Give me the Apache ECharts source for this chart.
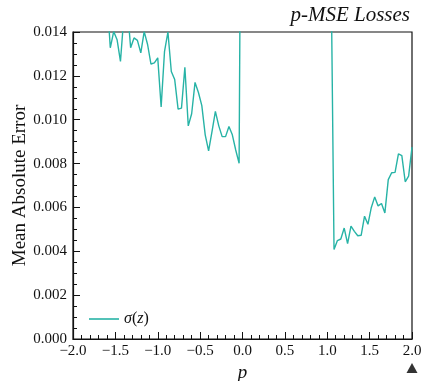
<!DOCTYPE html>
<html>
<head>
<meta charset="utf-8">
<script src="https://cdn.jsdelivr.net/npm/echarts@6/dist/echarts.min.js"></script>
<style>
  html, body { margin: 0; padding: 0; background: #fff; }
  #chart { width: 424px; height: 381px; }
</style>
</head>
<body>
<div id="chart"></div>
<script>
// p values at which each loss was evaluated
const pValues = [
  -2.00, -1.96, -1.92, -1.88, -1.84, -1.80, -1.76, -1.72, -1.68, -1.64,
  -1.60, -1.56, -1.52, -1.48, -1.44, -1.40, -1.36, -1.32, -1.28, -1.24,
  -1.20, -1.16, -1.12, -1.08, -1.04, -1.00, -0.96, -0.92, -0.88, -0.84,
  -0.80, -0.76, -0.72, -0.68, -0.64, -0.60, -0.56, -0.52, -0.48, -0.44,
  -0.40, -0.36, -0.32, -0.28, -0.24, -0.20, -0.16, -0.12, -0.08, -0.04,
   0.00,  0.04,  0.08,  0.12,  0.16,  0.20,  0.24,  0.28,  0.32,  0.36,
   0.40,  0.44,  0.48,  0.52,  0.56,  0.60,  0.64,  0.68,  0.72,  0.76,
   0.80,  0.84,  0.88,  0.92,  0.96,  1.00,  1.04,  1.08,  1.12,  1.16,
   1.20,  1.24,  1.28,  1.32,  1.36,  1.40,  1.44,  1.48,  1.52,  1.56,
   1.60,  1.64,  1.68,  1.72,  1.76,  1.80,  1.84,  1.88,  1.92,  1.96,
   2.00
];

// mean absolute error for the sigma(z) model (null = run diverged)
const maeSigma = [
  0.0192, 0.0178, 0.0186, 0.0170, 0.0175, 0.0162, 0.0167, 0.0159, 0.0164, 0.0152,
  0.0157, 0.01328, 0.01402, 0.01365, 0.01266, 0.0147, 0.0152, 0.01328, 0.01373, 0.01362,
  0.01305, 0.01402, 0.01343, 0.01254, 0.01259, 0.01282, 0.01058, 0.01312, 0.01400, 0.01220,
  0.01183, 0.01048, 0.01053, 0.01239, 0.00972, 0.01027, 0.01170, 0.01124, 0.01064, 0.00931,
  0.00858, 0.00946, 0.01038, 0.00972, 0.00923, 0.00923, 0.00969, 0.00931, 0.00862, 0.00801,
  0.0350, null, null, null, null, null, null, null, null, null,
  null, null, null, null, null, null, null, null, null, null,
  null, null, null, null, null, null, 0.0187, 0.00408, 0.00449, 0.00456,
  0.00506, 0.00435, 0.00515, 0.00491, 0.00471, 0.00473, 0.00560, 0.00523, 0.00600, 0.00648,
  0.00607, 0.00618, 0.00575, 0.00727, 0.00758, 0.00760, 0.00844, 0.00836, 0.00717, 0.00743,
  0.00875
];

// reference marker placed under the axis at p = 2 (plain MSE)
const markerP = [2.0];
const markerY = [-0.00132];

const xTicks = { min: -2.0, max: 2.0, interval: 0.5 };
const yTicks = { min: 0.0, max: 0.014, interval: 0.002 };

const SERIF = '"Liberation Serif", "DejaVu Serif", serif';
const INK = '#111';
const TEAL = '#27b3a6';

const lineData = pValues.map((p, i) => [p, maeSigma[i]]);
const markerData = markerP.map((p, i) => [p, markerY[i]]);

const chart = echarts.init(document.getElementById('chart'), null, { renderer: 'canvas' });

chart.setOption({
  animation: false,
  backgroundColor: '#fff',
  title: {
    text: 'p-MSE Losses',
    right: 9,
    top: 0,
    textStyle: { fontFamily: SERIF, fontStyle: 'italic', fontWeight: 'normal', fontSize: 21, color: INK }
  },
  grid: {
    left: 73, right: 12, top: 32, bottom: 42,
    show: true, borderColor: INK, borderWidth: 1.2,
    outerBoundsMode: 'none'
  },
  legend: {
    left: 84, top: 306,
    itemWidth: 30, itemHeight: 1.6, itemGap: 10,
    data: [{ name: 'sigma', icon: 'rect' }],
    formatter: () => '{i|σ}({i|z})',
    textStyle: {
      fontFamily: SERIF, fontSize: 16, color: INK,
      rich: { i: { fontFamily: SERIF, fontStyle: 'italic', fontSize: 16, color: INK } }
    }
  },
  xAxis: {
    type: 'value',
    min: xTicks.min, max: xTicks.max, interval: xTicks.interval,
    name: 'p', nameLocation: 'middle', nameGap: 23,
    nameTextStyle: { fontFamily: SERIF, fontStyle: 'italic', fontSize: 19, color: INK },
    axisLine: { show: true, onZero: false, lineStyle: { color: INK, width: 1.2 } },
    axisTick: { show: true, inside: true, length: 7, lineStyle: { color: INK, width: 1 } },
    minorTick: { show: true, splitNumber: 5, length: 4, lineStyle: { color: INK, width: 1 } },
    splitLine: { show: false },
    axisLabel: {
      margin: 5, fontFamily: SERIF, fontSize: 15, color: INK,
      formatter: v => v.toFixed(1).replace('-', '\u2212')
    }
  },
  yAxis: {
    type: 'value',
    min: yTicks.min, max: yTicks.max, interval: yTicks.interval,
    name: 'Mean Absolute Error', nameLocation: 'middle', nameGap: 43,
    nameMoveOverlap: false,
    nameTextStyle: { fontFamily: SERIF, fontSize: 19, color: INK },
    axisLine: { show: true, onZero: false, lineStyle: { color: INK, width: 1.2 } },
    axisTick: { show: true, inside: true, length: 7, lineStyle: { color: INK, width: 1 } },
    minorTick: { show: true, splitNumber: 4, length: 4, lineStyle: { color: INK, width: 1 } },
    splitLine: { show: false },
    axisLabel: {
      margin: 6, fontFamily: SERIF, fontSize: 15, color: INK,
      formatter: v => v.toFixed(3)
    }
  },
  series: [
    {
      name: 'sigma',
      type: 'line',
      data: lineData,
      symbol: 'none',
      connectNulls: false,
      clip: true,
      lineStyle: { color: TEAL, width: 1.4 },
      itemStyle: { color: TEAL }
    },
    {
      name: 'marker',
      type: 'scatter',
      data: markerData,
      symbol: 'triangle',
      symbolSize: [11, 10],
      clip: false,
      silent: true,
      itemStyle: { color: '#000' }
    }
  ]
});
</script>
</body>
</html>
